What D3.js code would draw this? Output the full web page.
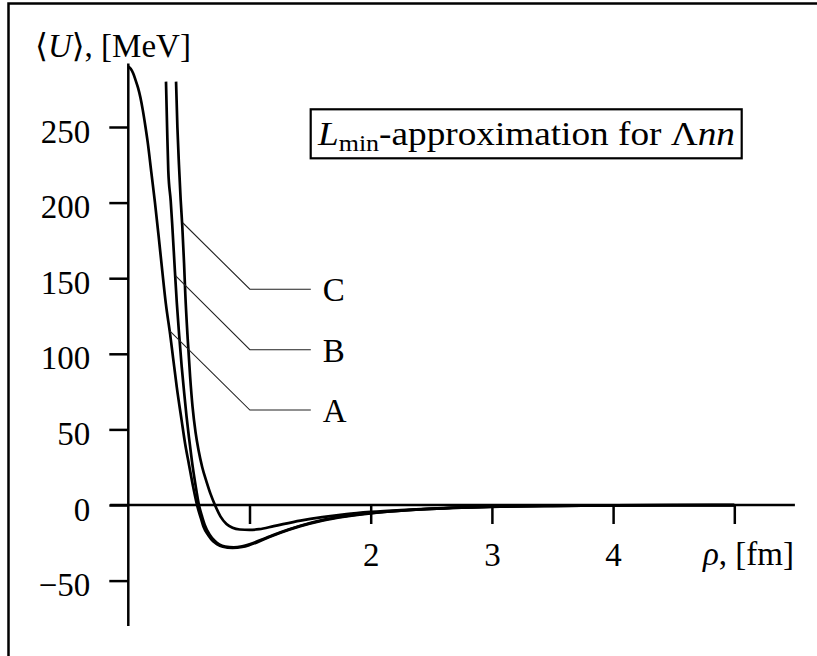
<!DOCTYPE html>
<html>
<head>
<meta charset="utf-8">
<script src="https://cdn.jsdelivr.net/npm/d3@7"></script>
<style>
  body { margin: 0; background: #fff; }
  text { font-family: "Liberation Serif", "DejaVu Serif", serif; fill: #000; }
</style>
</head>
<body>
<div id="chart"></div>
<script>
// curve A: starts at the y axis with a soft top
var rhoA = [0, 0.02, 0.04, 0.06, 0.08, 0.10, 0.12, 0.14, 0.16, 0.19, 0.22, 0.25, 0.28, 0.31, 0.345, 0.37, 0.40, 0.44, 0.47, 0.50, 0.535, 0.567,
    0.60, 0.62, 0.66, 0.70, 0.73, 0.78, 0.86, 0.94, 1.0, 1.14, 1.25, 1.42, 1.6, 1.8, 2.0, 2.25, 2.5, 2.75, 3.0, 3.5, 4.0, 4.5, 5.0]
var uA = [290, 288.5, 285.5, 281, 276, 269.5, 261, 251, 240, 220, 200, 178, 155, 133, 113, 97, 78, 56, 40, 27, 12, 0,
    -9, -14.3, -20, -24, -25.8, -27.6, -28.4, -27.8, -26.5, -22, -18.5, -14, -10.3, -7.5, -5.5, -3.8, -2.6, -1.8, -1.2, -0.6, -0.3, -0.15, -0.05]

// curve B: hard core
var rhoB = [0.311, 0.32, 0.33, 0.35, 0.362, 0.385, 0.40, 0.42, 0.44, 0.46, 0.48, 0.50, 0.525, 0.555, 0.583,
    0.61, 0.63, 0.67, 0.71, 0.75, 0.80, 0.87, 0.94, 1.0, 1.14, 1.25, 1.42, 1.6, 1.8, 2.0, 2.25, 2.5, 2.75, 3.0, 3.5, 4.0, 4.5, 5.0]
var uB = [280, 250, 221, 201, 186, 154, 134, 112, 92, 75, 59, 45, 29, 13, 0,
    -8, -13, -19.5, -23.5, -26, -27.5, -28, -27.3, -26, -21.6, -18.2, -13.7, -10, -7.3, -5.3, -3.7, -2.5, -1.7, -1.1, -0.55, -0.28, -0.13, -0.05]

// curve C: shallow well
var rhoC = [0.394, 0.405, 0.418, 0.432, 0.445, 0.46, 0.47, 0.49, 0.51, 0.53, 0.555, 0.58, 0.61, 0.647, 0.68, 0.715,
    0.76, 0.81, 0.86, 0.92, 1.0, 1.08, 1.2, 1.42, 1.6, 1.8, 2.0, 2.25, 2.5, 2.75, 3.0, 3.5, 4.0, 4.5, 5.0]
var uC = [280, 250, 225, 202, 185, 160, 140, 110, 85, 65, 48, 36, 25, 15, 7, 0,
    -7.5, -12.5, -15, -16.2, -16.5, -16, -14, -10.3, -8, -6, -4.6, -3.3, -2.3, -1.6, -1.1, -0.55, -0.28, -0.12, -0.05]

var yTicks = [-50, 0, 50, 100, 150, 200, 250]
var xTicks = [1, 2, 3, 4, 5]
var xTickLabels = ["", "2", "3", "4", ""]

// label leaders: pointer on curve, elbow, then horizontal to leaderEnd
var labelNames = ["A", "B", "C"]
var leaderFrom = [[0.344, 115], [0.391, 151.5], [0.451, 186.5]]
var leaderElbow = [[1.003, 62.8], [1.003, 102.7], [1.003, 142.7]]
var leaderEnd = 1.506

width = 817
height = 656
var svg = d3.select("#chart").append("svg")
    .attr("width", width).attr("height", height)

// frame (right and bottom edges fall outside the picture)
svg.append("rect")
    .attr("x", 8.5).attr("y", 3.5)
    .attr("width", 900).attr("height", 750)
    .attr("fill", "none").attr("stroke", "black").attr("stroke-width", 2.5)

var x = d3.scaleLinear().domain([0, 5]).range([128.3, 734.3])
var y = d3.scaleLinear().domain([0, 250]).range([505, 127])
var fs = 33

// y axis
var yAxis = svg.append("g")
    .attr("transform", "translate(" + x(0) + ",0)")
    .call(d3.axisLeft(y).tickValues(yTicks).tickSize(19).tickPadding(19)
        .tickFormat(function (d) { return d < 0 ? "\u2212" + Math.abs(d) : d }))
yAxis.select(".domain").remove()
yAxis.selectAll("line").attr("stroke-width", 2.5)
yAxis.selectAll("text").attr("font-size", fs).attr("dy", "0.46em")
    .attr("font-family", "Liberation Serif")
svg.append("line")
    .attr("x1", x(0)).attr("x2", x(0))
    .attr("y1", y(292)).attr("y2", y(-80))
    .attr("stroke", "black").attr("stroke-width", 2.5)

// x axis
var xAxis = svg.append("g")
    .attr("transform", "translate(0," + y(0) + ")")
    .call(d3.axisBottom(x).tickValues(xTicks).tickSize(19).tickPadding(30)
        .tickFormat(function (d, i) { return xTickLabels[i] }))
xAxis.select(".domain").remove()
xAxis.selectAll("line").attr("stroke-width", 2.5)
xAxis.selectAll("text").attr("font-size", fs).attr("dy", "0.35em")
    .attr("font-family", "Liberation Serif")
svg.append("line")
    .attr("x1", x(-0.15)).attr("x2", x(5.5))
    .attr("y1", y(0)).attr("y2", y(0))
    .attr("stroke", "black").attr("stroke-width", 2.5)

// curves
var line = d3.line()
    .x(function (d) { return x(d[0]) })
    .y(function (d) { return y(d[1]) })
    .curve(d3.curveMonotoneX)
var curves = [[rhoA, uA], [rhoB, uB], [rhoC, uC]]
curves.forEach(function (c) {
    svg.append("path")
        .datum(d3.zip(c[0], c[1]))
        .attr("fill", "none")
        .attr("stroke", "black")
        .attr("stroke-width", 2.7)
        .attr("d", line)
})

// leaders and labels
labelNames.forEach(function (name, i) {
    var p = leaderFrom[i], e = leaderElbow[i]
    svg.append("polyline")
        .attr("fill", "none").attr("stroke", "#222").attr("stroke-width", 1.1)
        .attr("points", [[x(p[0]), y(p[1])], [x(e[0]), y(e[1])], [x(leaderEnd), y(e[1])]].join(" "))
    svg.append("text")
        .attr("x", x(leaderEnd) + 12).attr("y", y(e[1]) + 12)
        .attr("font-size", fs)
        .text(name)
})

// title box
svg.append("rect")
    .attr("x", 310.7).attr("y", 109.3).attr("width", 431).attr("height", 49)
    .attr("fill", "none").attr("stroke", "black").attr("stroke-width", 2.2)
var t = svg.append("text").attr("x", 318).attr("y", 145).attr("font-size", fs)
    .attr("textLength", 417).attr("lengthAdjust", "spacingAndGlyphs")
t.append("tspan").attr("font-style", "italic").text("L")
t.append("tspan").attr("font-size", 23).attr("dy", 6).text("min")
t.append("tspan").attr("dy", -6).text("-approximation for \u039B")
t.append("tspan").attr("font-style", "italic").text("nn")

// axis titles
var yl = svg.append("text").attr("x", 35).attr("y", 57).attr("font-size", fs)
yl.append("tspan").text("\u27E8")
yl.append("tspan").attr("font-style", "italic").text("U")
yl.append("tspan").text("\u27E9, [MeV]")

var xl = svg.append("text").attr("x", 703).attr("y", 565).attr("font-size", fs)
xl.append("tspan").attr("font-style", "italic").text("\u03C1")
xl.append("tspan").text(", [fm]")
</script>
</body>
</html>
